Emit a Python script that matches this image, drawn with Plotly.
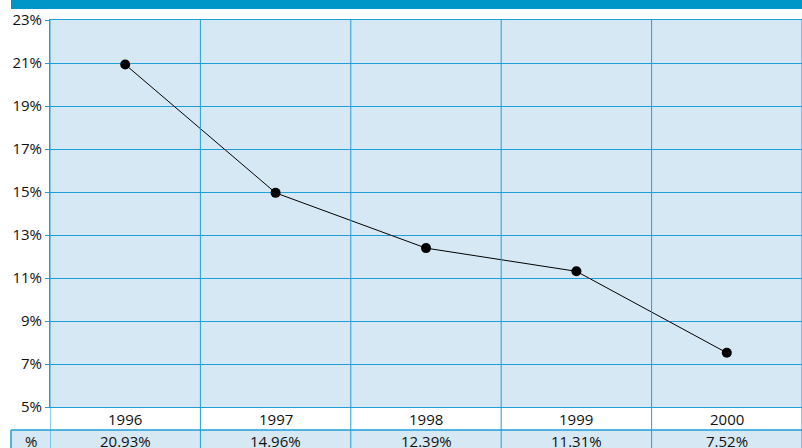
import plotly.graph_objects as go

years = ["1996", "1997", "1998", "1999", "2000"]
values = [20.93, 14.96, 12.39, 11.31, 7.52]
value_labels = ["20.93%", "14.96%", "12.39%", "11.31%", "7.52%"]
y_ticks = [5, 7, 9, 11, 13, 15, 17, 19, 21, 23]
y_tick_labels = ["5%", "7%", "9%", "11%", "13%", "15%", "17%", "19%", "21%", "23%"]

BLUE = "#1f9fd9"
BAND = "#0096c8"
BG = "#d6e8f3"
FONT = "Open Sans"
FS = 15

W, H = 802, 448
ML, MR, MT, MB = 50, 0, 20, 41
pw = W - ML - MR
ph = H - MT - MB

def px_x(px):
    return (px - ML) / pw

def px_y(py):
    return (H - MB - py) / ph

xs = list(range(len(years)))

fig = go.Figure()
fig.add_trace(go.Scatter(
    x=xs, y=values, mode="lines+markers",
    line=dict(color="black", width=1),
    marker=dict(color="black", size=10),
    hoverinfo="skip", showlegend=False,
))

shapes = []
# top band
shapes.append(dict(type="rect", xref="paper", yref="paper",
                   x0=px_x(11), x1=px_x(W), y0=px_y(0), y1=px_y(9),
                   fillcolor=BAND, line=dict(width=0), layer="above"))
# table row background
shapes.append(dict(type="rect", xref="paper", yref="paper",
                   x0=px_x(11), x1=px_x(W), y0=px_y(430), y1=px_y(448),
                   fillcolor=BG, line=dict(width=0), layer="below"))
# table top border
shapes.append(dict(type="line", xref="paper", yref="paper",
                   x0=px_x(11), x1=px_x(W), y0=px_y(430), y1=px_y(430),
                   line=dict(color=BLUE, width=1.5)))
# table left border
shapes.append(dict(type="line", xref="paper", yref="paper",
                   x0=px_x(11), x1=px_x(11), y0=px_y(430), y1=px_y(448),
                   line=dict(color=BLUE, width=1.5)))
# vertical category separators
for i in range(len(years) + 1):
    xv = i - 0.5
    shapes.append(dict(type="line", xref="x", yref="paper",
                       x0=xv, x1=xv, y0=1, y1=px_y(448),
                       line=dict(color=BLUE, width=1)))

annotations = []
for i, (yr, lab) in enumerate(zip(years, value_labels)):
    annotations.append(dict(x=i, xref="x", y=px_y(419), yref="paper",
                            xanchor="center", yanchor="middle",
                            text=yr, showarrow=False,
                            font=dict(family=FONT, size=FS, color="#111")))
    annotations.append(dict(x=i, xref="x", y=px_y(441), yref="paper",
                            xanchor="center", yanchor="middle",
                            text=lab, showarrow=False,
                            font=dict(family=FONT, size=FS, color="#111")))
annotations.append(dict(x=px_x(31), xref="paper", y=px_y(441), yref="paper",
                        xanchor="center", yanchor="middle",
                        text="%", showarrow=False,
                        font=dict(family=FONT, size=FS, color="#111")))

fig.update_layout(
    width=W, height=H,
    margin=dict(l=ML, r=MR, t=MT, b=MB),
    paper_bgcolor="white", plot_bgcolor=BG,
    font=dict(family=FONT, size=FS, color="#111"),
    xaxis=dict(range=[-0.5, 4.5], showgrid=False, showticklabels=False,
               zeroline=False, showline=True, linecolor=BLUE, linewidth=1,
               mirror=True, ticks=""),
    yaxis=dict(range=[5, 23], tickvals=y_ticks, ticktext=y_tick_labels,
               showgrid=True, gridcolor=BLUE, gridwidth=1, zeroline=False,
               showline=True, linecolor=BLUE, linewidth=1,
               ticks="outside", ticklen=4, tickcolor=BLUE,
               tickfont=dict(family=FONT, size=FS, color="#111")),
    shapes=shapes, annotations=annotations,
)

fig.write_html("out.html", config={"displayModeBar": False},
               post_script="document.body.style.margin='0';document.body.style.overflow='hidden';")
